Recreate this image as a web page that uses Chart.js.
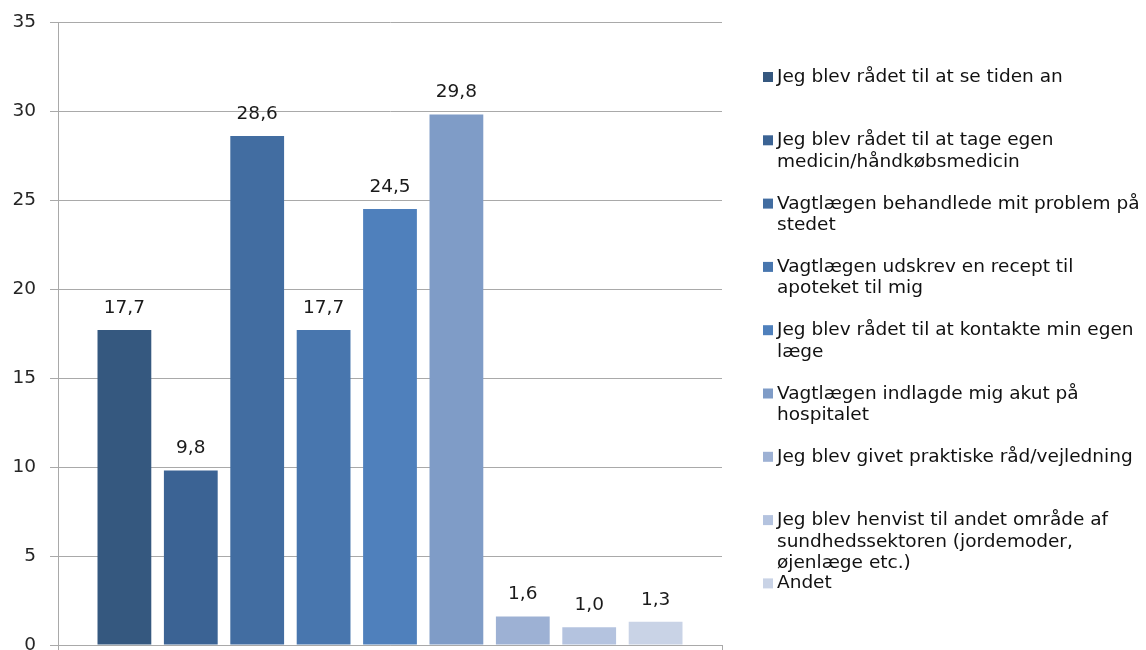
<!DOCTYPE html>
<html>
<head>
<meta charset="utf-8">
<script src="https://cdn.jsdelivr.net/npm/chart.js@4"></script>
<style>
  html, body { margin: 0; padding: 0; background: #fff; }
  #wrap { width: 1146px; height: 650px; }
</style>
</head>
<body>
<div id="wrap"><canvas id="chart" width="1146" height="650"></canvas></div>
<script>
  // answers (one bar each), values in percent
  categories = [
    'Jeg blev rådet til at se tiden an',
    'Jeg blev rådet til at tage egen\nmedicin/håndkøbsmedicin',
    'Vagtlægen behandlede mit problem på\nstedet',
    'Vagtlægen udskrev en recept til\napoteket til mig',
    'Jeg blev rådet til at kontakte min egen\nlæge',
    'Vagtlægen indlagde mig akut på\nhospitalet',
    'Jeg blev givet praktiske råd/vejledning',
    'Jeg blev henvist til andet område af\nsundhedssektoren (jordemoder,\nøjenlæge etc.)',
    'Andet'
  ]
  values = [17.7, 9.8, 28.6, 17.7, 24.5, 29.8, 1.6, 1.0, 1.3]
  colors = ['#35587f', '#3b6394', '#426da1', '#4876ae', '#4f80bc', '#7f9cc7', '#9db1d4', '#b4c3df', '#c9d3e6']
  yTicks = [0, 5, 10, 15, 20, 25, 30, 35]

  const FONT = '"DejaVu Sans", Verdana, sans-serif'
  const SIZE = 18.5
  const gridColor = '#a9a9a9'

  datasets = []
  for (let i = 0; i < values.length; i++) {
    datasets.push({
      label: categories[i],
      data: [values[i]],
      backgroundColor: colors[i],
      borderWidth: 0,
      categoryPercentage: 0.9,
      barPercentage: 0.81
    })
  }

  // value on top of each bar, decimal comma
  const valueLabels = {
    id: 'valueLabels',
    afterDatasetsDraw: (chart) => {
      const { ctx } = chart
      ctx.save()
      ctx.font = SIZE + 'px ' + FONT
      ctx.fillStyle = '#1a1a1a'
      ctx.textAlign = 'center'
      ctx.textBaseline = 'middle'
      chart.data.datasets.forEach((ds, i) => {
        const el = chart.getDatasetMeta(i).data[0]
        ctx.fillText(ds.data[0].toFixed(1).replace('.', ','), el.x, el.y - 22)
      })
      ctx.restore()
    }
  }

  // legend on the right, one fixed slot per answer, text wrapped on \n
  const sideLegend = {
    id: 'sideLegend',
    afterDraw: (chart) => {
      const { ctx } = chart
      const x0 = 763, top = 82, slot = 63.3, lineH = 21.5
      ctx.save()
      ctx.font = SIZE + 'px ' + FONT
      ctx.textBaseline = 'alphabetic'
      ctx.textAlign = 'left'
      chart.data.datasets.forEach((ds, i) => {
        const y = top + i * slot
        ctx.fillStyle = ds.backgroundColor
        ctx.fillRect(x0, y - 10, 10, 10)
        ctx.fillStyle = '#111'
        ds.label.split('\n').forEach((line, k) => {
          ctx.fillText(line, x0 + 14, y + k * lineH)
        })
      })
      ctx.restore()
    }
  }

  var chart = new Chart('chart', {
    type: 'bar',
    data: {
      labels: [''],
      datasets: datasets
    },
    options: {
      responsive: false,
      animation: false,
      layout: {
        padding: { left: 0, right: 424, top: 22, bottom: 0 }
      },
      plugins: {
        legend: { display: false },
        tooltip: { enabled: false }
      },
      scales: {
        x: {
          afterFit: (s) => { s.height = 5; s.paddingLeft = 0; s.paddingRight = 0 },
          grid: { display: true, drawOnChartArea: false, tickLength: 8, color: gridColor },
          border: { color: gridColor },
          ticks: { display: false }
        },
        y: {
          min: 0,
          max: 35,
          afterFit: (s) => { s.width = 58; s.paddingTop = 0; s.paddingBottom = 0 },
          afterBuildTicks: (s) => { s.ticks = yTicks.map(v => ({ value: v })) },
          grid: { color: gridColor, tickLength: 8 },
          border: { color: gridColor },
          ticks: {
            padding: 14,
            color: '#262626',
            font: { family: FONT, size: SIZE }
          }
        }
      }
    },
    plugins: [valueLabels, sideLegend]
  });
</script>
</body>
</html>
